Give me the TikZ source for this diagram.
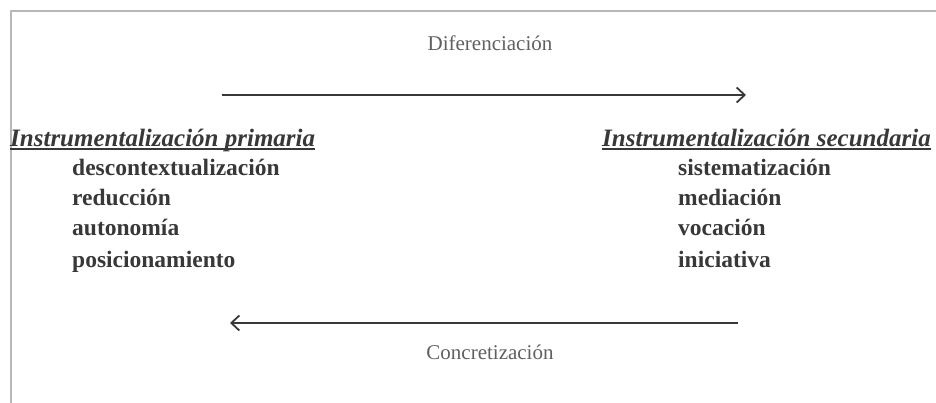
\documentclass[tikz,border=0pt]{standalone}
\usepackage{fontspec}
\setmainfont{Liberation Serif}
\usetikzlibrary{arrows.meta}
\definecolor{framegray}{gray}{0.72}
\definecolor{txt}{gray}{0.22}
\tikzset{
  lbl/.style={font=\fontsize{21}{24}\selectfont, text=txt!80, inner sep=0pt},
  head/.style={font=\fontsize{25}{28}\selectfont\bfseries\itshape, text=txt, inner sep=0pt, anchor=base west},
  item/.style={font=\fontsize{23.5}{26}\selectfont\bfseries, text=txt, inner sep=0pt, anchor=base west},
  uline/.style={draw=txt, line width=1.2pt},
  flow/.style={line width=1.8pt, draw=txt, -{Straight Barb[length=8pt,width=15pt,line width=1.8pt]}}
}
\begin{document}
\begin{tikzpicture}[x=1pt,y=-1pt]
\useasboundingbox (0,0) rectangle (936,403);
\draw[framegray, line width=2pt] (11,403) -- (11,11) -- (936,11);
\node[lbl] (dif) at (490,43) {Diferenciación};
\coordinate (a1) at (222,95);
\coordinate (a2) at (746,95);
\draw[flow] (a1) -- (a2);
\node[head] (hp) at (10,147) {Instrumentalización primaria};
\draw[uline] ([yshift=-2pt]hp.base west) -- ([yshift=-2pt]hp.base east);
\node[item] (p1) at (72,176) {descontextualización};
\node[item] (p2) at (72,206) {reducción};
\node[item] (p3) at (72,236) {autonomía};
\node[item] (p4) at (72,267) {posicionamiento};
\node[head] (hs) at (602,147) {Instrumentalización secundaria};
\draw[uline] ([yshift=-2pt]hs.base west) -- ([yshift=-2pt]hs.base east);
\node[item] (s1) at (678,176) {sistematización};
\node[item] (s2) at (678,206) {mediación};
\node[item] (s3) at (678,236) {vocación};
\node[item] (s4) at (678,267) {iniciativa};
\coordinate (b1) at (738,323);
\coordinate (b2) at (230,323);
\draw[flow] (b1) -- (b2);
\node[lbl] (con) at (490,352) {Concretización};
\end{tikzpicture}
\end{document}
